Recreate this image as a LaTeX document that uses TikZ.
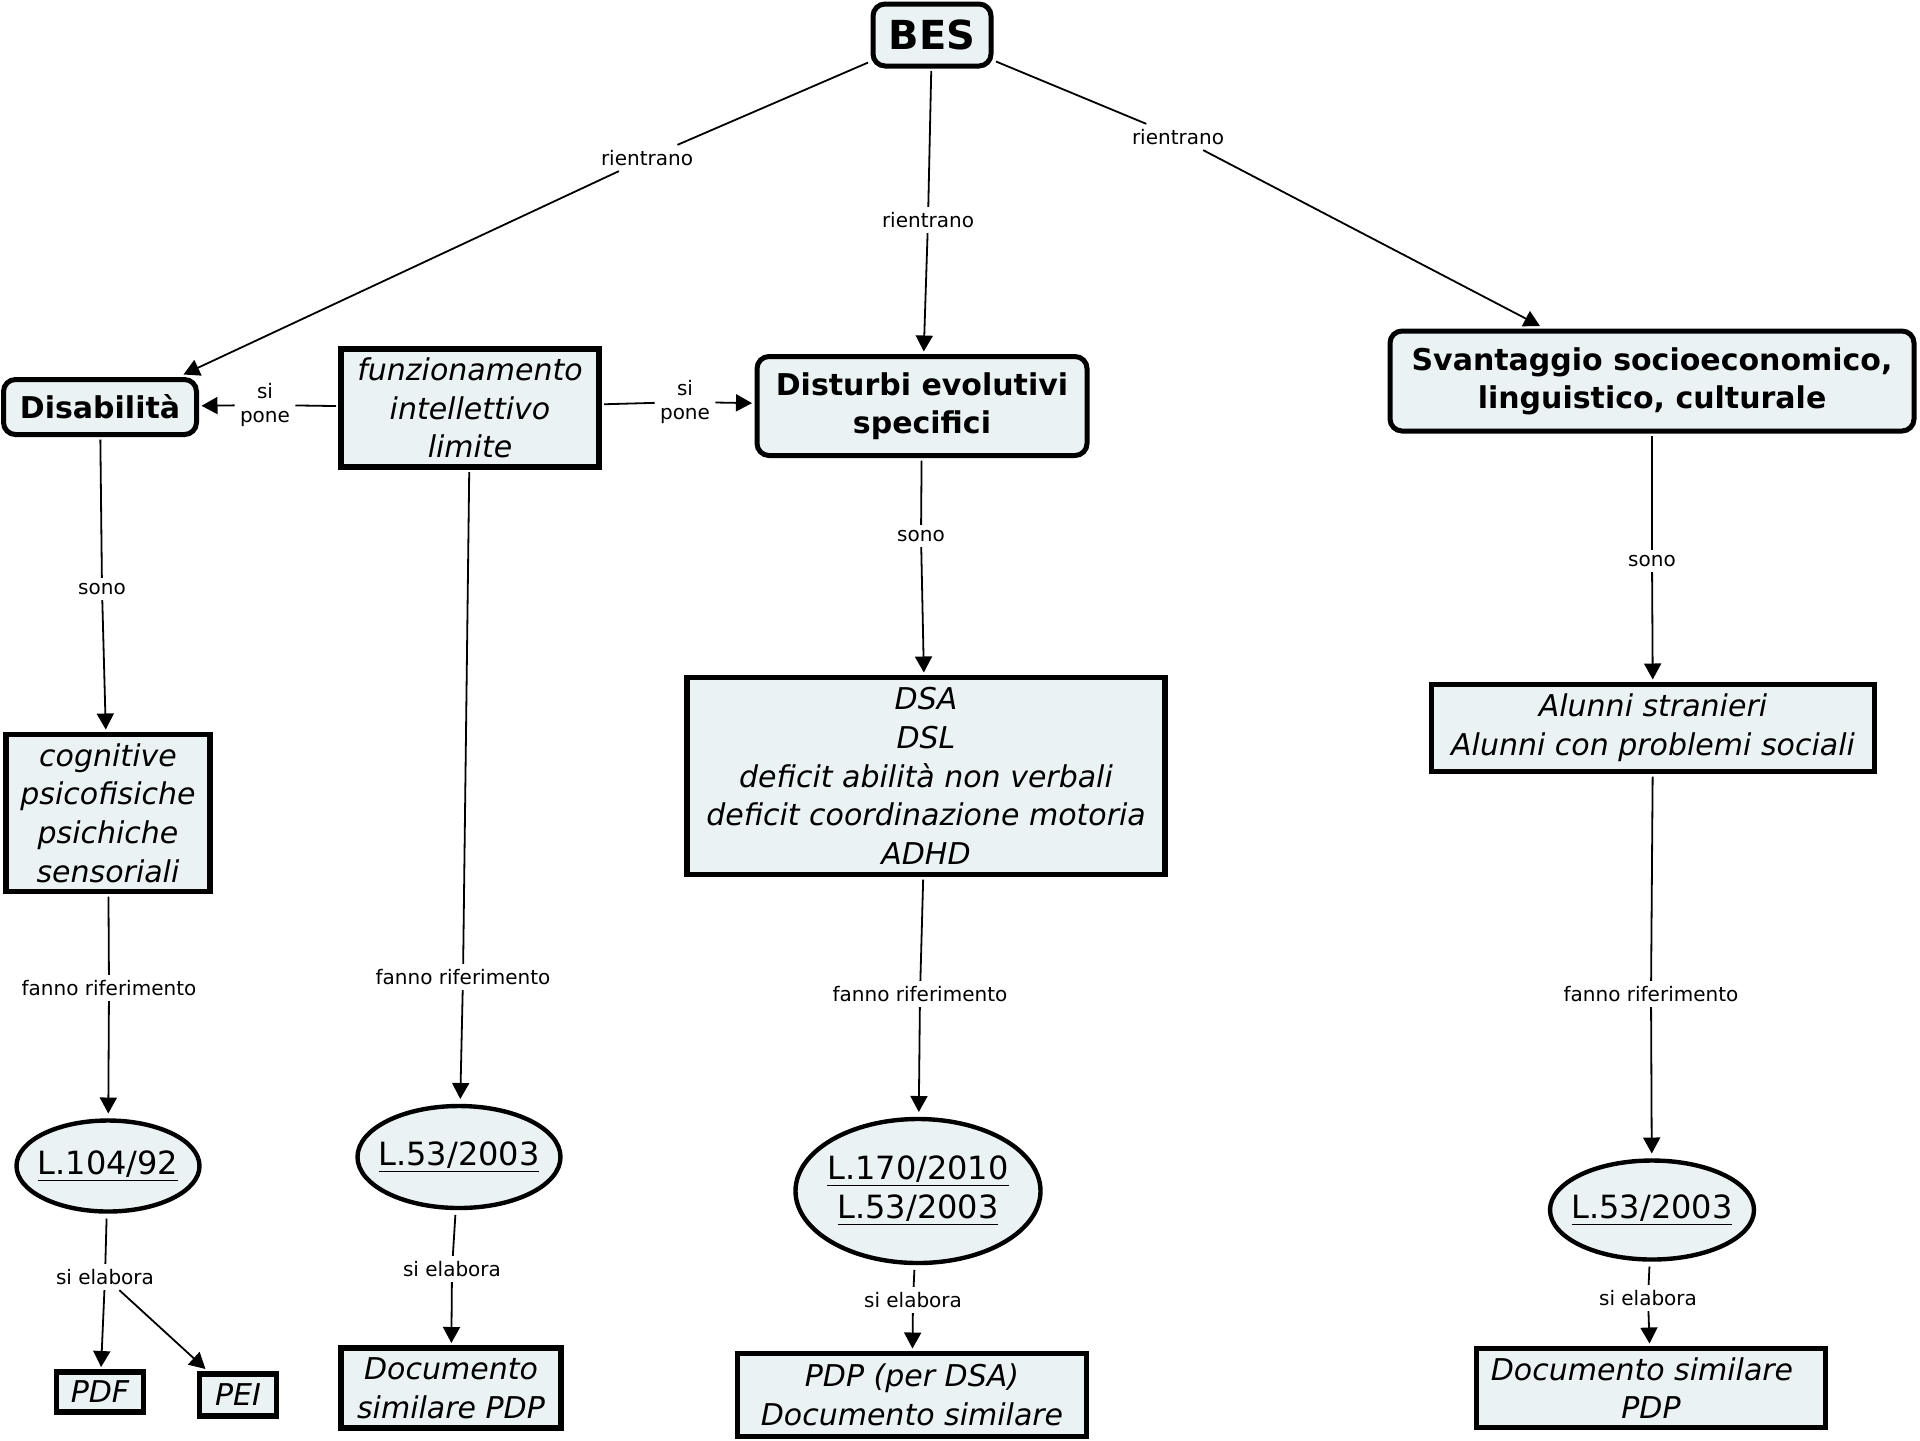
\documentclass[tikz,border=0pt]{standalone}
\usepackage{fontspec}
\setmainfont{DejaVu Sans}
\usetikzlibrary{shapes.geometric,arrows.meta,calc}
\definecolor{bgc}{RGB}{235,242,244}
\tikzset{
  mainbox/.style={draw, line width=2.5pt, rounded corners=6pt, fill=bgc, align=center, inner sep=0pt, outer sep=2.5pt,
    font=\bfseries\fontsize{15}{19}\selectfont},
  itbox/.style={draw, line width=2.6pt, fill=bgc, align=center, inner sep=0pt, outer sep=2.5pt,
    font=\itshape\fontsize{15}{19.3}\selectfont},
  law/.style={ellipse, draw, line width=2.2pt, fill=bgc, align=center, inner xsep=-15pt, inner ysep=-5pt, outer sep=3.5pt,
    font=\fontsize{16}{19.5}\selectfont},
  lbl/.style={align=center, inner sep=2.5pt, font=\fontsize{10}{11.6}\selectfont},
  conn/.style={line width=0.9pt},
  arr/.style={conn, -{Triangle[length=8pt,width=8.5pt]}}
}
\begin{document}
\begin{tikzpicture}[x=0.5pt,y=-0.5pt]
\useasboundingbox (0,0) rectangle (1920,1440);
% main nodes
\node[mainbox, minimum width=59pt, minimum height=31pt, font=\bfseries\fontsize{20}{24}\selectfont] (bes) at (932,35) {BES};
\node[mainbox, minimum width=96.5pt, minimum height=27.5pt] (dis) at (100,407) {Disabilità};
\node[itbox, minimum width=129pt, minimum height=59pt] (funz) at (470,408) {funzionamento\\intellettivo\\limite};
\node[mainbox, minimum width=165pt, minimum height=49.5pt] (des) at (922,406) {Disturbi evolutivi\\specifici};
\node[mainbox, minimum width=262pt, minimum height=50pt] (sva) at (1652,381) {Svantaggio socioeconomico,\\linguistico, culturale};
% second level
\node[itbox, minimum width=102pt, minimum height=78.5pt] (cog) at (108,813) {cognitive\\psicofisiche\\psichiche\\sensoriali};
\node[itbox, minimum width=239pt, minimum height=98.5pt] (dsa) at (926,776) {DSA\\DSL\\deficit abilità non verbali\\deficit coordinazione motoria\\ADHD};
\node[itbox, minimum width=221.5pt, minimum height=43.5pt] (alu) at (1653,728) {Alunni stranieri\\Alunni con problemi sociali};
% laws
\node[law, minimum width=91.5pt, minimum height=45.5pt] (l104) at (108,1166) {\underline{L.104/92}};
\node[law, minimum width=101.5pt, minimum height=51pt] (l53a) at (459,1157) {\underline{L.53/2003}};
\node[law, minimum width=122.5pt, minimum height=72pt] (l170) at (918,1191) {\underline{L.170/2010}\\\underline{L.53/2003}};
\node[law, minimum width=102pt, minimum height=49.5pt] (l53b) at (1652,1210) {\underline{L.53/2003}};
% documents
\node[itbox, minimum width=43.5pt, minimum height=20pt] (pdf) at (100,1392) {PDF};
\node[itbox, minimum width=38.5pt, minimum height=21pt] (pei) at (238,1395) {PEI};
\node[itbox, minimum width=110pt, minimum height=40pt] (doc2) at (451,1388) {Documento\\similare PDP};
\node[itbox, minimum width=174.5pt, minimum height=41.5pt] (pdp) at (912,1395) {PDP (per DSA)\\Documento similare};
\node[itbox, minimum width=174.5pt, minimum height=39.5pt] (doc4) at (1651,1388) {Documento similare\hspace*{0.6em}\\PDP};
% labels
\node[lbl] (rl) at (647,158) {rientrano};
\node[lbl] (rc) at (928,220) {rientrano};
\node[lbl] (rr) at (1178,137) {rientrano};
\node[lbl] (spl) at (265,405) {si\\pone};
\node[lbl] (spr) at (685,402) {si\\pone};
\node[lbl] (s1) at (102,589) {sono};
\node[lbl] (s3) at (921,536) {sono};
\node[lbl] (s4) at (1652,561) {sono};
\node[lbl] (f1) at (109,988) {fanno riferimento};
\node[lbl] (f2) at (463,977) {fanno riferimento};
\node[lbl] (f3) at (920,994) {fanno riferimento};
\node[lbl] (f4) at (1651,994) {fanno riferimento};
\node[lbl] (e1) at (105,1277) {si elabora};
\node[lbl] (e2) at (452,1269) {si elabora};
\node[lbl] (e3) at (913,1300) {si elabora};
\node[lbl] (e4) at (1648,1298) {si elabora};
% connectors
\draw[conn] (bes) -- (rl); \draw[arr] (rl) -- ($(dis.north east)+(-18,0)$);
\draw[conn] (bes) -- (rc); \draw[arr] (rc) -- (des);
\draw[conn] (bes) -- (rr); \draw[arr] (rr) -- ($(sva.north)+(-112,0)$);
\draw[conn] (funz) -- (spl); \draw[arr] (spl) -- (dis);
\draw[conn] (funz) -- (spr); \draw[arr] (spr) -- (des);
\draw[conn] (dis) -- (s1); \draw[arr] (s1) -- (cog);
\draw[conn] (funz) -- (f2); \draw[arr] (f2) -- (l53a);
\draw[conn] (des) -- (s3); \draw[arr] (s3) -- (dsa);
\draw[conn] (sva) -- (s4); \draw[arr] (s4) -- (alu);
\draw[conn] (cog) -- (f1); \draw[arr] (f1) -- (l104);
\draw[conn] (dsa) -- (f3); \draw[arr] (f3) -- (l170);
\draw[conn] (alu) -- (f4); \draw[arr] (f4) -- (l53b);
\draw[conn] (l104) -- (e1); \draw[arr] (e1) -- (pdf); \draw[arr] (e1) -- ($(pei.north west)+(11,0)$);
\draw[conn] (l53a) -- (e2); \draw[arr] (e2) -- (doc2);
\draw[conn] (l170) -- (e3); \draw[arr] (e3) -- (pdp);
\draw[conn] (l53b) -- (e4); \draw[arr] (e4) -- (doc4);
\end{tikzpicture}
\end{document}
